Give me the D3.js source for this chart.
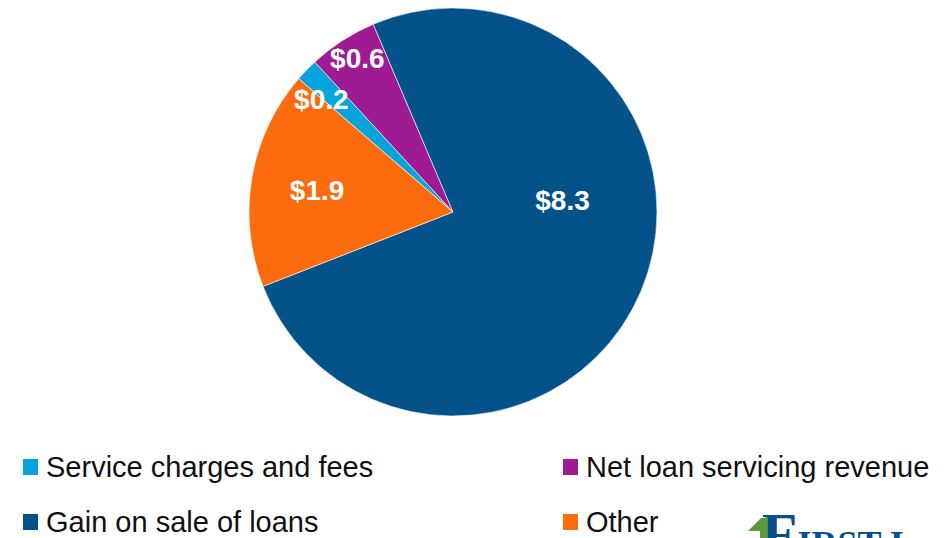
<!DOCTYPE html>
<html>
<head>
<meta charset="utf-8">
<script src="https://cdn.jsdelivr.net/npm/d3@7"></script>
<style>
  body { margin: 0; background: #fff; }
  svg { display: block; font-family: "Liberation Sans", Arial, sans-serif; }
</style>
</head>
<body>
<svg width="950" height="538"></svg>
<script>
// Data ($ millions)
let categories = ["Service charges and fees", "Net loan servicing revenue", "Gain on sale of loans", "Other"];
let values = [0.2, 0.6, 8.3, 1.9];
let labels = ["$0.2", "$0.6", "$8.3", "$1.9"];
let colors = ["#06a3dc", "#9e1b94", "#04528a", "#fc6c0f"];

let svg = d3.select("svg");

// Pie layout, clockwise, first slice starts left of the top
let cx = 453, cy = 212, r = 204;
let startAngle = -49.2 * Math.PI / 180;
let pie = d3.pie().sort(null)
  .startAngle(startAngle)
  .endAngle(startAngle + 2 * Math.PI);
let arc = d3.arc().innerRadius(0).outerRadius(r);

let arcs = pie(values);

let g = svg.append("g").attr("transform", `translate(${cx},${cy})`);

g.selectAll("path")
  .data(arcs)
  .enter()
  .append("path")
  .attr("d", arc)
  .attr("fill", (d, i) => colors[i])
  .attr("stroke", "#fff")
  .attr("stroke-width", 0.6);

// data labels, placed "best fit" like the original (angle in degrees, radius as share of r)
let labelAngle = [-49.4, -31.8, 83.8, -80.8];
let labelRadius = [0.85, 0.89, 0.54, 0.675];
g.selectAll("text.lbl")
  .data(arcs)
  .enter()
  .append("text")
  .attr("class", "lbl")
  .attr("transform", (d, i) => {
    let a = labelAngle[i] * Math.PI / 180;
    let rr = r * labelRadius[i];
    return `translate(${Math.sin(a) * rr},${-Math.cos(a) * rr})`;
  })
  .attr("text-anchor", "middle")
  .attr("dy", "0.36em")
  .attr("fill", "#fff")
  .attr("font-weight", "bold")
  .attr("font-size", 28)
  .text((d, i) => labels[i]);

// legend, two columns
let legX = [23, 563];
let legY = [477, 532];
let legend = svg.append("g");
categories.forEach((c, i) => {
  let x = legX[i % 2], y = legY[Math.floor(i / 2)];
  legend.append("rect")
    .attr("x", x).attr("y", y - 18)
    .attr("width", 15).attr("height", 16)
    .attr("fill", colors[i]);
  legend.append("text")
    .attr("x", x + 23).attr("y", y)
    .attr("font-size", 29)
    .attr("fill", "#111")
    .text(c);
});

// partial logo in the corner
let logo = svg.append("g");
logo.append("path")
  .attr("d", "M748,531 L761,518 L770,518 L770,538 L760,538 L760,531 Z")
  .attr("fill", "#5a9a3c");
let logoText = logo.append("text")
  .attr("x", 762).attr("y", 553)
  .attr("font-family", "'Liberation Serif', serif")
  .attr("font-weight", "bold")
  .attr("fill", "#07508a");
logoText.append("tspan").attr("font-size", 58).text("F");
logoText.append("tspan").attr("font-size", 36).attr("dy", 3).text("IRST I");
</script>
</body>
</html>
